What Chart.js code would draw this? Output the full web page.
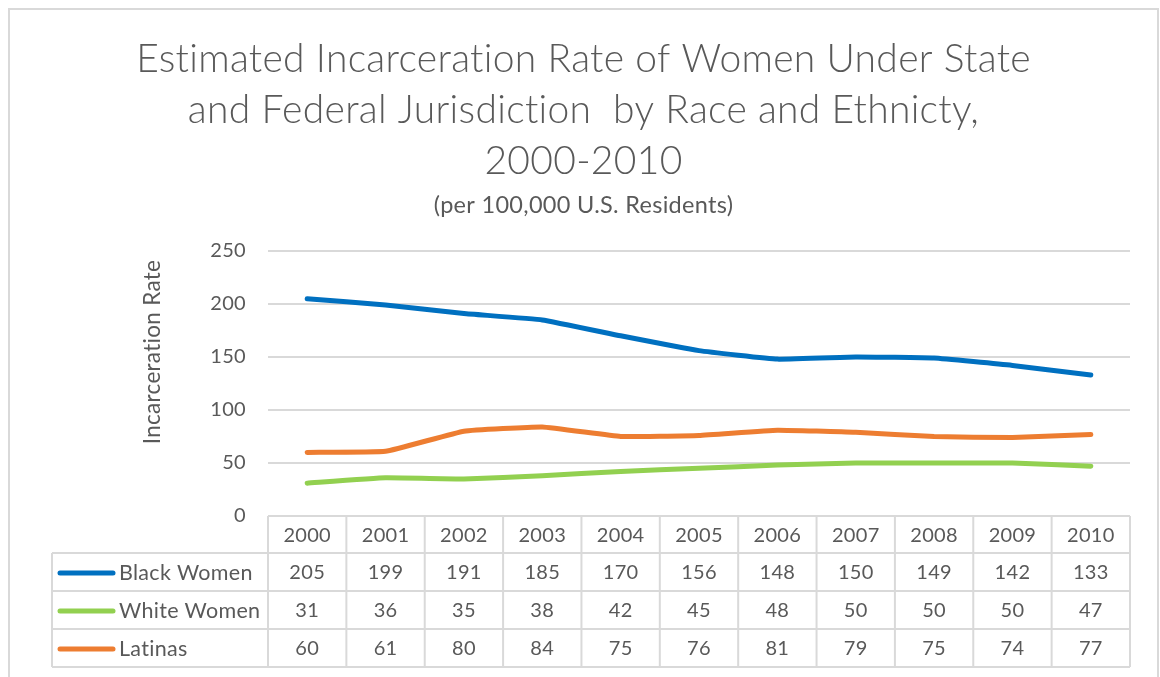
<!DOCTYPE html>
<html>
<head>
<meta charset="utf-8">
<script src="https://cdn.jsdelivr.net/npm/chart.js@4"></script>
<style>
  html, body { margin: 0; padding: 0; background: #ffffff; }
  #wrap { width: 1160px; height: 677px; position: relative; }
</style>
</head>
<body>
<div id="wrap"><canvas id="chart" width="1160" height="677"></canvas></div>
<script>
// ---- data ----
const years = ['2000', '2001', '2002', '2003', '2004', '2005', '2006', '2007', '2008', '2009', '2010'];
const blackWomen = [205, 199, 191, 185, 170, 156, 148, 150, 149, 142, 133];
const whiteWomen = [31, 36, 35, 38, 42, 45, 48, 50, 50, 50, 47];
const latinas = [60, 61, 80, 84, 75, 76, 81, 79, 75, 74, 77];
const seriesNames = ['Black Women', 'White Women', 'Latinas'];
const seriesColors = ['#0070C0', '#92D050', '#ED7D31'];
const titleLines = [
  'Estimated Incarceration Rate of Women Under State',
  'and Federal Jurisdiction  by Race and Ethnicty,',
  '2000-2010'
];
const subtitleText = '(per 100,000 U.S. Residents)';
const yAxisTitle = 'Incarceration Rate';
const yMin = 0, yMax = 250, yStep = 50;

const FONT = 'Lato, "Open Sans", "Noto Sans", sans-serif';
const TEXT = '#595959';
const RULE = '#d9d9d9';

// Titles, outer frame, axis caption and the data table under the plot
const decorations = {
  id: 'decorations',
  beforeDraw(chart) {
    // a tiny letter spacing keeps "ti" / "fi" from being joined into ligatures
    chart.ctx.letterSpacing = '0.3px';
  },
  afterDraw(chart) {
    const ctx = chart.ctx;
    const area = chart.chartArea;
    const xs = chart.scales.x;
    ctx.save();
    ctx.letterSpacing = '0.3px';

    // outer frame
    ctx.strokeStyle = RULE;
    ctx.lineWidth = 2;
    ctx.strokeRect(9, 9, 1149, 700);

    // title block
    const cx = 583.5;
    ctx.fillStyle = TEXT;
    ctx.textAlign = 'center';
    ctx.textBaseline = 'alphabetic';
    ctx.font = '300 39px ' + FONT;
    titleLines.forEach((t, i) => ctx.fillText(t, cx, 72 + i * 51));
    ctx.font = '400 23.5px ' + FONT;
    ctx.fillText(subtitleText, cx, 213);

    // vertical axis caption
    ctx.save();
    ctx.translate(153, 352);
    ctx.rotate(-Math.PI / 2);
    ctx.textBaseline = 'middle';
    ctx.font = '400 22.5px ' + FONT;
    ctx.fillText(yAxisTitle, 0, 0);
    ctx.restore();

    // data table
    const headerH = 37, rowH = 38;
    const top = area.bottom;
    const tableLeft = 52;
    const rowsTop = top + headerH;
    const bottom = rowsTop + rowH * seriesNames.length;
    const edges = [area.left];
    for (let i = 0; i < years.length - 1; i++) {
      edges.push((xs.getPixelForValue(i) + xs.getPixelForValue(i + 1)) / 2);
    }
    edges.push(area.right);

    ctx.strokeStyle = RULE;
    ctx.lineWidth = 2;
    ctx.beginPath();
    ctx.moveTo(area.left, top); ctx.lineTo(area.right, top);
    for (let r = 0; r <= seriesNames.length; r++) {
      const y = rowsTop + r * rowH;
      ctx.moveTo(tableLeft, y); ctx.lineTo(area.right, y);
    }
    edges.forEach(x => { ctx.moveTo(x, top); ctx.lineTo(x, bottom); });
    ctx.moveTo(tableLeft, rowsTop); ctx.lineTo(tableLeft, bottom);
    ctx.stroke();

    ctx.fillStyle = TEXT;
    ctx.font = '20px ' + FONT;
    ctx.textAlign = 'center';
    ctx.textBaseline = 'middle';
    years.forEach((yr, i) => ctx.fillText(yr, xs.getPixelForValue(i), top + headerH / 2 + 1));

    chart.data.datasets.forEach((ds, r) => {
      const cy = rowsTop + r * rowH + rowH / 2 + 1;
      // series key
      ctx.strokeStyle = ds.borderColor;
      ctx.lineWidth = 5;
      ctx.lineCap = 'round';
      ctx.beginPath();
      ctx.moveTo(60, cy); ctx.lineTo(113, cy);
      ctx.stroke();
      ctx.fillStyle = TEXT;
      ctx.textAlign = 'left';
      ctx.font = '21.5px ' + FONT;
      ctx.fillText(ds.label, 119, cy);
      ctx.textAlign = 'center';
      ctx.font = '20px ' + FONT;
      ds.data.forEach((v, i) => ctx.fillText(String(v), xs.getPixelForValue(i), cy));
    });

    ctx.restore();
  }
};

const seriesData = [blackWomen, whiteWomen, latinas];

new Chart(document.getElementById('chart'), {
  type: 'line',
  data: {
    labels: years,
    datasets: seriesNames.map((name, i) => ({
      label: name,
      data: seriesData[i],
      borderColor: seriesColors[i],
      backgroundColor: seriesColors[i],
      borderWidth: 5,
      borderCapStyle: 'round',
      borderJoinStyle: 'round',
      pointRadius: 0,
      tension: 0.1,
      clip: false
    }))
  },
  options: {
    responsive: false,
    animation: false,
    devicePixelRatio: 1,
    layout: { padding: { top: 251, right: 30, bottom: 161, left: 0 } },
    plugins: {
      legend: { display: false },
      title: { display: false },
      tooltip: { enabled: false }
    },
    scales: {
      x: {
        type: 'category',
        offset: true,
        display: false
      },
      y: {
        min: yMin,
        max: yMax,
        afterFit(scale) { scale.width = 268; },
        ticks: {
          stepSize: yStep,
          color: TEXT,
          padding: 22,
          font: { family: FONT, size: 20 }
        },
        grid: { color: RULE, lineWidth: 2, drawTicks: false },
        border: { display: false }
      }
    }
  },
  plugins: [decorations]
});
</script>
</body>
</html>
